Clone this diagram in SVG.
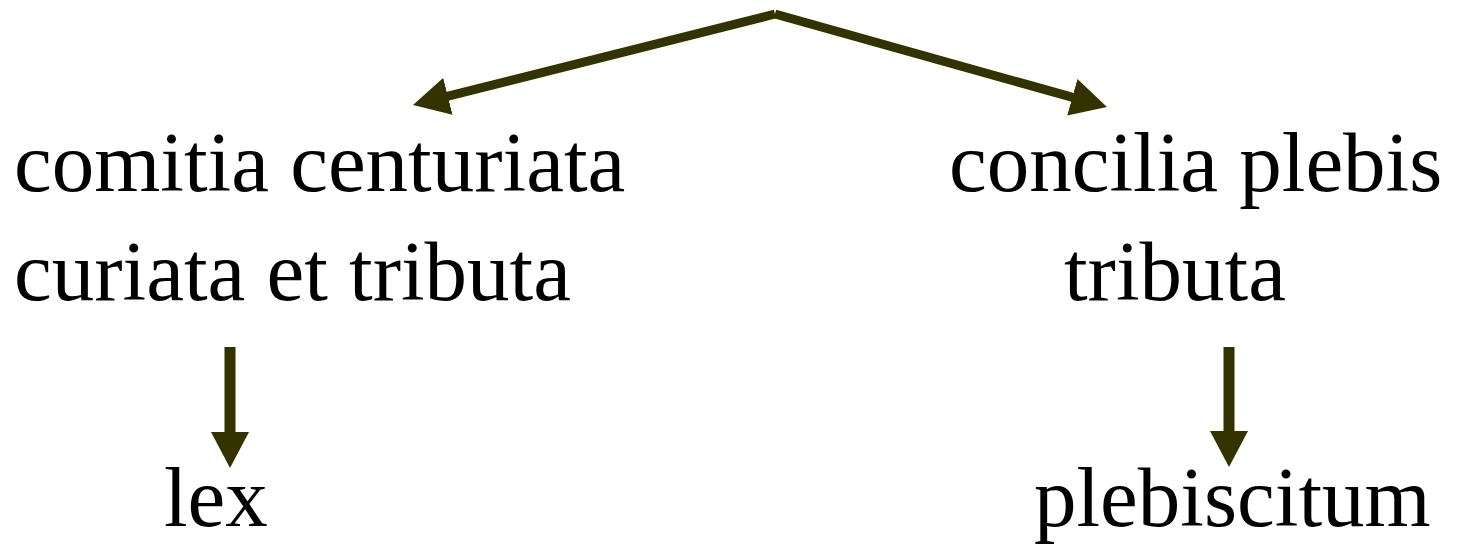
<svg xmlns="http://www.w3.org/2000/svg" width="1457" height="544" viewBox="0 0 1457 544">
  <style>
    .lbl { font-family: "Liberation Serif", "Times New Roman", serif; font-size: 85px; fill: #000000; }
    .conn { stroke: #333300; fill: none; stroke-linecap: butt; }
  </style>
  <defs>
    <marker id="head" viewBox="0 0 36 38" refX="6" refY="19" markerWidth="36" markerHeight="38" markerUnits="userSpaceOnUse" orient="auto">
      <path d="M0,0 L36,19 L0,38 Z" fill="#333300"/>
    </marker>
  </defs>
  <rect width="1457" height="544" fill="#ffffff"/>
  <g id="connectors">
    <line class="conn" x1="775" y1="14" x2="442.1" y2="97.7" stroke-width="9" marker-end="url(#head)"/>
    <line class="conn" x1="775" y1="14" x2="1078.1" y2="98.9" stroke-width="9" marker-end="url(#head)"/>
    <line class="conn" x1="230" y1="347" x2="230" y2="438" stroke-width="11" marker-end="url(#head)"/>
    <line class="conn" x1="1229" y1="347" x2="1229" y2="437" stroke-width="11" marker-end="url(#head)"/>
  </g>
  <g id="node-comitia">
    <text class="lbl" x="14" y="191">comitia centuriata</text>
    <text class="lbl" x="14" y="300">curiata et tributa</text>
  </g>
  <g id="node-concilia">
    <text class="lbl" x="949" y="191">concilia plebis</text>
    <text class="lbl" x="1064" y="300">tributa</text>
  </g>
  <g id="node-lex">
    <text class="lbl" x="164" y="526">lex</text>
  </g>
  <g id="node-plebiscitum">
    <text class="lbl" x="1034" y="526">plebiscitum</text>
  </g>
</svg>
